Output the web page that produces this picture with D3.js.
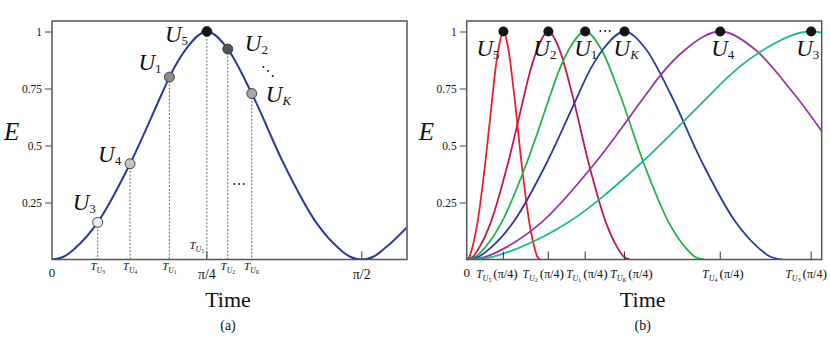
<!DOCTYPE html>
<html><head><meta charset="utf-8">
<script src="https://cdn.jsdelivr.net/npm/d3@7"></script>
<style>
body{margin:0;background:#fff;}
svg text{font-family:"Liberation Serif","DejaVu Serif",serif;fill:#111;}
</style></head>
<body><svg id="c" width="830" height="341"></svg>
<script>
// ---- data (time in units of pi/4) ----
const profileU = [0, 0.075, 0.15, 0.295, 0.504, 0.71, 0.758, 0.865, 1.0, 1.135, 1.29, 1.496, 1.705, 1.85, 1.925, 2.0, 2.075, 2.15, 2.29];
const profileE = [0, 0.012, 0.05, 0.163, 0.42, 0.728, 0.80, 0.923, 1.0, 0.923, 0.728, 0.42, 0.163, 0.05, 0.012, 0, 0.012, 0.05, 0.14];

const leftUsers = ["3", "4", "1", "5", "2", "K"];
const leftT     = [0.295, 0.504, 0.758, 1.0, 1.135, 1.29];
const leftE     = [0.163, 0.42, 0.80, 1.0, 0.923, 0.728];

const xTicksL     = [1, 2];
const xTickLabelsL = ["π/4", "π/2"];
const yTicks      = [0.25, 0.5, 0.75, 1];
const yTickLabels = ["0.25", "0.5", "0.75", "1"];

const rightUsers = ["5", "2", "1", "K", "4", "3"];
const rightT     = [0.237, 0.527, 0.765, 1.019, 1.637, 2.224];

// ---- styles / layout ----
const curveBlue = "#2c3a9c";
const leftFill = {"3":"#ececec","4":"#c4c4c4","1":"#8c8c8c","5":"#151515","2":"#555555","K":"#a8a8a8"};
const rightColor = {"5":"#e8202c","2":"#c01a4c","1":"#22b24c","K":"#2c3a9c","4":"#9a37a0","3":"#1fb894"};
const leftLabelOff = {"3":[-25,-12],"4":[-32,-2],"1":[-31,-7],"5":[-42,10],"2":[17,2],"K":[14,8]};
const rightLabelOff = {"5":[-27,24],"2":[-15,24],"1":[-11,24],"K":[-11,24],"4":[-9,24],"3":[-15,24]};
const rightTickLabelShift = {"5":-6.5,"2":-5,"1":1.7,"K":7,"4":2.8,"3":-5};

const svg = d3.select("#c");
const W = 355;
const yTop = 31.5, yBot = 259.5;

function uLabel(g, x, y, sub) {
  const t = g.append("text").attr("x", x).attr("y", y);
  t.append("tspan").text("U").attr("font-size", 23).attr("font-style", "italic");
  t.append("tspan").text(sub).attr("font-size", 13).attr("dy", 3)
    .attr("font-style", sub === "K" ? "italic" : "normal");
  return t;
}
function tSub(t, sub, size) {
  t.append("tspan").text("T").attr("font-size", size).attr("font-style", "italic");
  t.append("tspan").text("U").attr("font-size", size*0.7).attr("font-style", "italic").attr("dy", size*0.25);
  t.append("tspan").text(sub).attr("font-size", size*0.5).attr("dy", size*0.12)
    .attr("font-style", sub === "K" ? "italic" : "normal");
  return size*0.37;
}

function panel(x0, label) {
  const g = svg.append("g");
  const x = d3.scaleLinear().domain([0, 2.292]).range([x0, x0 + W]);
  const y = d3.scaleLinear().domain([0, 1]).range([yBot, yTop]);
  const id = "clip" + label;
  svg.append("clipPath").attr("id", id).append("rect")
    .attr("x", x0).attr("y", 21).attr("width", W).attr("height", yBot - 21);
  const ya = d3.axisLeft(y).tickValues(yTicks).tickFormat((d, i) => yTickLabels[i]).tickSize(7).tickPadding(3);
  const yg = g.append("g").attr("transform", `translate(${x0},0)`).call(ya);
  yg.select(".domain").remove();
  yg.selectAll("line").attr("stroke", "#444");
  yg.selectAll("text").attr("font-size", 11.5).attr("font-family", "Liberation Serif").attr("fill", "#222");
  g.append("text").text("E").attr("x", x0 - 48).attr("y", 140).attr("font-size", 25).attr("font-style", "italic");
  g.append("text").text("Time").attr("x", x0 + 176).attr("y", 307).attr("font-size", 22).attr("text-anchor", "middle");
  g.append("text").text("(" + label + ")").attr("x", x0 + 176).attr("y", 330).attr("font-size", 14).attr("text-anchor", "middle");
  g.append("text").text("0").attr("x", x(0)).attr("y", 277).attr("font-size", 13).attr("text-anchor", "middle");
  return {g, x, y, clip: id};
}

// ---------------- left panel ----------------
{
  const {g, x, y, clip} = panel(52, "a");
  const prof = profileU.map((u, i) => [u, profileE[i]]);
  const line = d3.line().x(d => x(d[0])).y(d => y(d[1])).curve(d3.curveMonotoneX);
  leftT.forEach((t, i) => {
    g.append("line").attr("x1", x(t)).attr("x2", x(t)).attr("y1", y(leftE[i])).attr("y2", yBot)
      .attr("stroke", "#444").attr("stroke-width", 0.8).attr("stroke-dasharray", "2,1.6");
  });
  g.append("path").attr("d", line(prof)).attr("fill", "none").attr("stroke", curveBlue)
    .attr("stroke-width", 2).attr("clip-path", `url(#${clip})`);
  xTicksL.forEach((t, i) => {
    g.append("line").attr("x1", x(t)).attr("x2", x(t)).attr("y1", yBot).attr("y2", yBot - 8).attr("stroke", "#333").attr("stroke-width", 1);
    g.append("text").text(xTickLabelsL[i]).attr("x", x(t)).attr("y", 279).attr("font-size", 14).attr("text-anchor", "middle");
  });
  leftT.forEach((t, i) => {
    const u = leftUsers[i];
    if (u === "5") {
      const tx = g.append("text").attr("x", x(t) - 3).attr("y", 249).attr("text-anchor", "end");
      tSub(tx, u, 11);
    } else {
      const tx = g.append("text").attr("x", x(t)).attr("y", 270).attr("text-anchor", "middle");
      tSub(tx, u, 11);
    }
  });
  g.append("rect").attr("x", 52).attr("y", 21).attr("width", W).attr("height", yBot - 21)
    .attr("fill", "none").attr("stroke", "#555").attr("stroke-width", 1.5);
  leftT.forEach((t, i) => {
    const u = leftUsers[i];
    g.append("circle").attr("cx", x(t)).attr("cy", y(leftE[i])).attr("r", 5)
      .attr("fill", leftFill[u]).attr("stroke", "#333").attr("stroke-width", 0.9);
    const o = leftLabelOff[u];
    uLabel(g, x(t) + o[0], y(leftE[i]) + o[1], u);
  });
  g.append("text").text("⋯").attr("x", 239).attr("y", 189).attr("font-size", 14).attr("text-anchor", "middle").attr("font-family", "DejaVu Sans");
  g.append("text").text("⋱").attr("x", 268).attr("y", 76).attr("font-size", 14).attr("text-anchor", "middle").attr("font-family", "DejaVu Sans");
}

// ---------------- right panel ----------------
{
  const {g, x, y, clip} = panel(466.7, "b");
  rightT.forEach((T, i) => {
    const u = rightUsers[i];
    const pts = profileU.map((p, j) => [p * T, profileE[j]]).filter((d, j) => profileU[j] <= 2.0);
    const line = d3.line().x(d => x(d[0])).y(d => y(d[1])).curve(d3.curveMonotoneX);
    g.append("path").attr("d", line(pts)).attr("fill", "none").attr("stroke", rightColor[u])
      .attr("stroke-width", 1.8).attr("clip-path", `url(#${clip})`);
  });
  rightT.forEach((T, i) => {
    const u = rightUsers[i];
    g.append("line").attr("x1", x(T)).attr("x2", x(T)).attr("y1", yBot).attr("y2", yBot - 8).attr("stroke", "#333").attr("stroke-width", 1);
    const tx = g.append("text").attr("x", x(T) + rightTickLabelShift[u]).attr("y", 278).attr("text-anchor", "middle");
    const back = tSub(tx, u, 11.5);
    tx.append("tspan").text("(").attr("font-size", 13.5).attr("dy", -back).attr("dx", 2);
    tx.append("tspan").text("π/4").attr("font-size", 12);
    tx.append("tspan").text(")").attr("font-size", 13.5);
  });
  g.append("rect").attr("x", 466.7).attr("y", 21).attr("width", W).attr("height", yBot - 21)
    .attr("fill", "none").attr("stroke", "#555").attr("stroke-width", 1.5);
  rightT.forEach((T, i) => {
    const u = rightUsers[i];
    g.append("circle").attr("cx", x(T)).attr("cy", y(1)).attr("r", 5).attr("fill", "#151515");
    const o = rightLabelOff[u];
    uLabel(g, x(T) + o[0], y(1) + o[1], u);
  });
  g.append("text").text("⋯").attr("x", 605).attr("y", 36).attr("font-size", 14).attr("text-anchor", "middle").attr("font-family", "DejaVu Sans");
}
</script></body></html>
